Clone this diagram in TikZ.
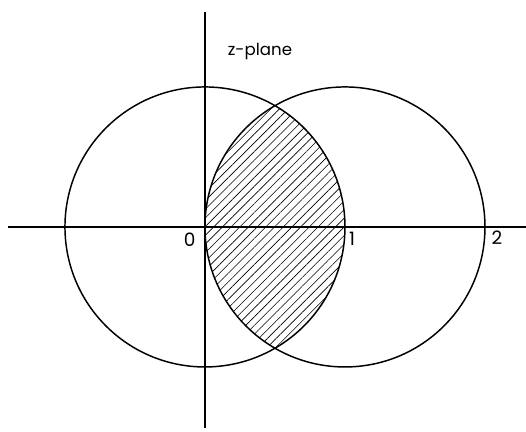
\documentclass[tikz,border=0pt]{standalone}
\usepackage{fontspec}
\setmainfont{Poppins}
\usepackage{tikz}
\usetikzlibrary{patterns.meta}

\begin{document}
\begin{tikzpicture}[x=4cm,y=4cm,line width=1.2pt]
	\useasboundingbox (-1.464,-1.464) rectangle (2.293,1.621);

	% shaded lens
	\begin{scope}
		\clip (0,0) circle (1);
		\fill[pattern={Lines[angle=45,distance=5pt,line width=0.5pt]}] (1,0) circle (1);
	\end{scope}

	\draw (0,0) circle (1);
	\draw (1,0) circle (1);

	\coordinate (xl) at (-1.407,0);
	\coordinate (xr) at (2.293,0);
	\coordinate (yb) at (0,-1.436);
	\coordinate (yt) at (0,1.535);
	\draw[line width=1.4pt] (xl) -- (xr);
	\draw[line width=1.4pt] (yb) -- (yt);

	\node[font=\fontsize{15}{15}\selectfont] (zero) at (-0.11,-0.09) {0};
	\node[font=\fontsize{15}{15}\selectfont] (one) at (1.05,-0.088) {1};
	\node[font=\fontsize{15}{15}\selectfont] (two) at (2.086,-0.075) {2};
	\node[font=\fontsize{13.5}{13.5}\selectfont] (plane) at (0.393,1.25) {z-plane};
\end{tikzpicture}
\end{document}
